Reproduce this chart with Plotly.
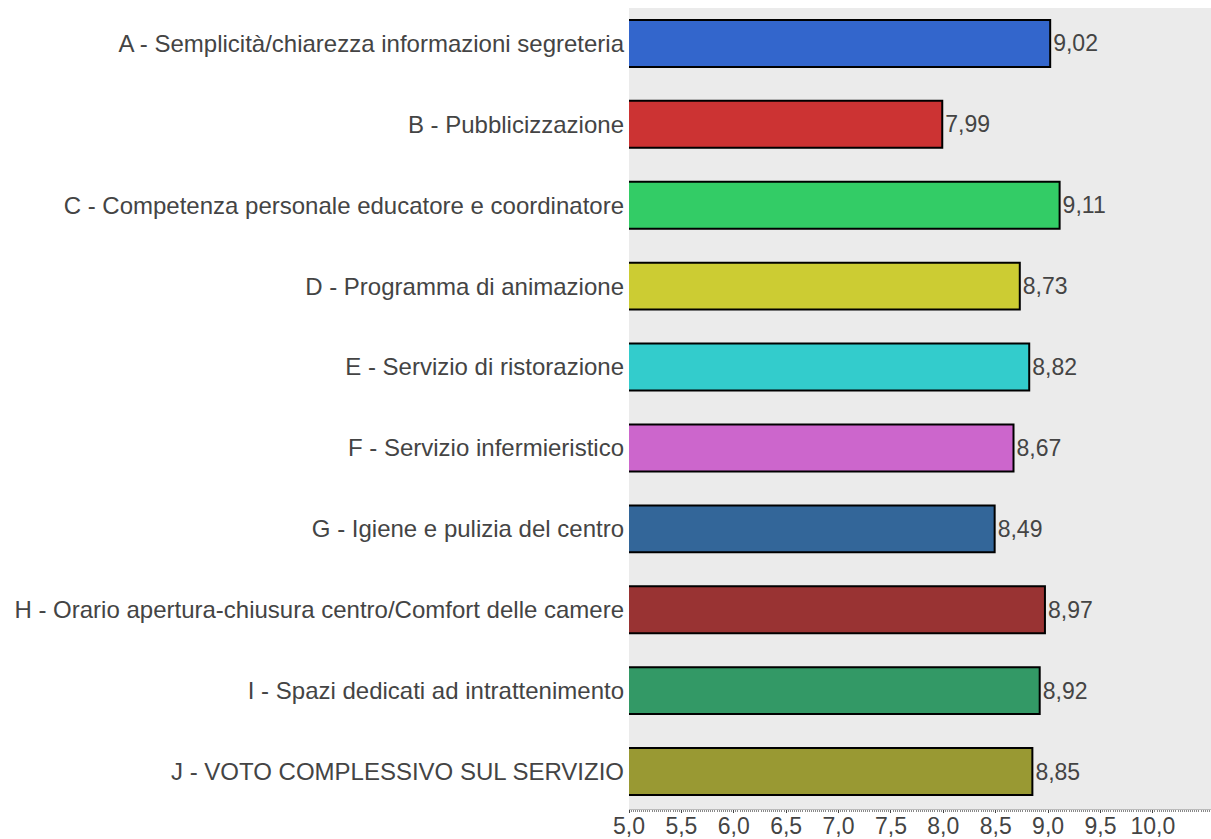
import plotly.graph_objects as go

categories = [
    "A - Semplicità/chiarezza informazioni segreteria",
    "B - Pubblicizzazione",
    "C - Competenza personale educatore e coordinatore",
    "D - Programma di animazione",
    "E - Servizio di ristorazione",
    "F - Servizio infermieristico",
    "G - Igiene e pulizia del centro",
    "H - Orario apertura-chiusura centro/Comfort delle camere",
    "I - Spazi dedicati ad intrattenimento",
    "J - VOTO COMPLESSIVO SUL SERVIZIO",
]
values = [9.02, 7.99, 9.11, 8.73, 8.82, 8.67, 8.49, 8.97, 8.92, 8.85]
colors = ["#3366CC", "#CC3333", "#33CC66", "#CCCC33", "#33CCCC",
          "#CC66CC", "#336699", "#993333", "#339966", "#999933"]
tick_vals = [5.0, 5.5, 6.0, 6.5, 7.0, 7.5, 8.0, 8.5, 9.0, 9.5, 10.0]

FONT = "Liberation Sans, Arial, sans-serif"

fig = go.Figure(go.Bar(
    x=values,
    y=categories,
    orientation="h",
    marker=dict(color=colors, line=dict(color="black", width=2)),
    width=0.58,
    text=[f"{v:.2f}".replace(".", ",") for v in values],
    textposition="outside",
    textfont=dict(family=FONT, size=23, color="#444444"),
    cliponaxis=False,
    hoverinfo="skip",
))

fig.update_layout(
    width=1211, height=839,
    margin=dict(l=629, r=0, t=8, b=30),
    paper_bgcolor="white",
    plot_bgcolor="#EBEBEB",
    showlegend=False,
    separators=",.",
    font=dict(family=FONT, size=23, color="#444444"),
    xaxis=dict(
        range=[5.0, 10.555],
        tickvals=tick_vals,
        ticktext=[f"{t:.1f}".replace(".", ",") for t in tick_vals],
        showgrid=False,
        zeroline=False,
        showline=True,
        linecolor="#BBBBBB",
        linewidth=1,
        ticks="outside",
        ticklen=3,
        tickcolor="#444444",
        automargin=False,
        ticklabelstandoff=-7,
        tickfont=dict(family=FONT, size=23, color="#444444"),
        minor=dict(dtick=0.02, ticks="outside", ticklen=2, tickcolor="#888888", showgrid=False),
    ),
    yaxis=dict(
        categoryorder="array",
        categoryarray=categories,
        range=[9.463, -0.438],
        showgrid=False,
        zeroline=False,
        ticks="",
        automargin=False,
        ticklabelstandoff=4,
        tickfont=dict(family=FONT, size=24, color="#444444"),
    ),
)

fig.write_html("out.html")
